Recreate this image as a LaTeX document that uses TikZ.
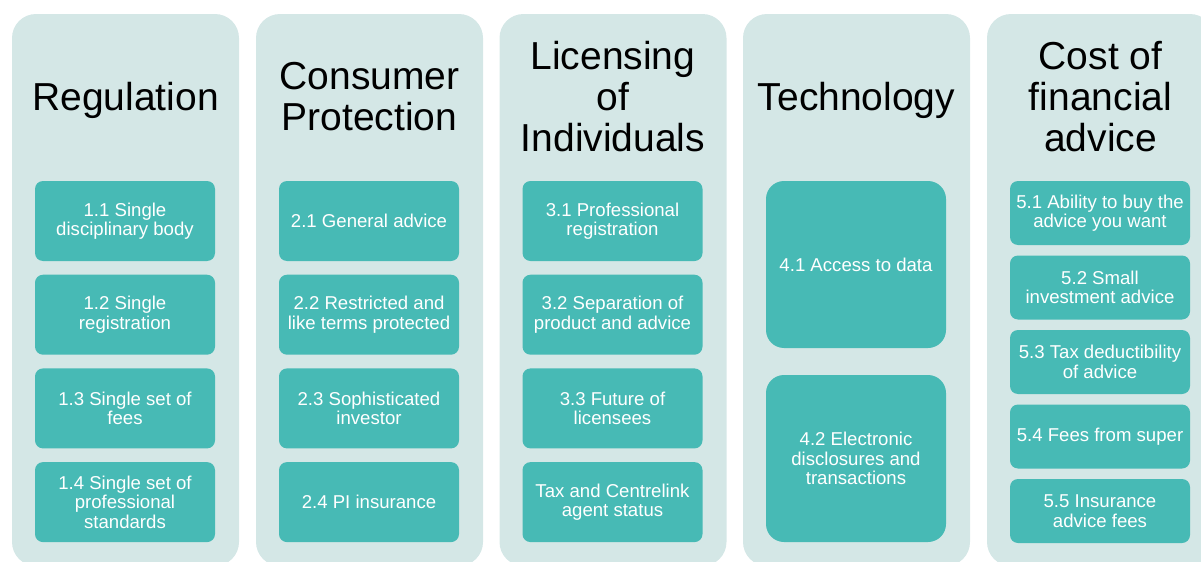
\documentclass[tikz,border=0pt]{standalone}
\usepackage{fontspec}
\setmainfont{Liberation Sans}
\usetikzlibrary{positioning}
\definecolor{panelbg}{RGB}{212,231,230}
\definecolor{itemfg}{RGB}{71,186,181}
\tikzset{
    x=0.5pt,y=-0.5pt,
    panel/.style ={fill=panelbg, rounded corners=12pt, inner sep=0pt,
                   minimum width=113.5pt, minimum height=276pt},
    heading/.style ={align=center, font=\fontsize{19.5}{20.5}\selectfont},
    item/.style ={fill=itemfg, text=white, rounded corners=4pt, inner sep=0pt,
                  outer sep=0pt, align=center, minimum width=90pt, minimum height=40pt,
                  font=\fontsize{9.3}{9.8}\selectfont},
    smallitem/.style ={item, minimum height=32pt},
    bigitem/.style ={item, rounded corners=9pt, minimum height=83.5pt}
}

\begin{document}
\begin{tikzpicture}[node distance=6.85pt]

\useasboundingbox (0,0) rectangle (1201,562);

% Panels
\node[panel] (P1) at (125.5,290) {};
\node[panel] (P2) at (369.5,290) {};
\node[panel] (P3) at (613,290) {};
\node[panel] (P4) at (856.5,290) {};
\node[panel] (P5) at (1100.5,290) {};

% Headings
\node[heading] (H1) at (125.5,100) {Regulation};
\node[heading] (H2) at (369.5,97) {Consumer\\Protection};
\node[heading] (H3) at (613,97) {Licensing\\of\\Individuals};
\node[heading] (H4) at (856.5,100) {Technology};
\node[heading] (H5) at (1100.5,97) {Cost of\\financial\\advice};

% Regulation
\node[item, anchor=north] (R1) at (125,181) {1.1 Single\\disciplinary body};
\node[item, below=of R1] (R2) {1.2 Single\\registration};
\node[item, below=of R2] (R3) {1.3 Single set of\\fees};
\node[item, below=of R3] (R4) {1.4 Single set of\\professional\\standards};

% Consumer Protection
\node[item, anchor=north] (C1) at (369,181) {2.1 General advice};
\node[item, below=of C1] (C2) {2.2 Restricted and\\like terms protected};
\node[item, below=of C2] (C3) {2.3 Sophisticated\\investor};
\node[item, below=of C3] (C4) {2.4 PI insurance};

% Licensing of Individuals
\node[item, anchor=north] (L1) at (612.5,181) {3.1 Professional\\registration};
\node[item, below=of L1] (L2) {3.2 Separation of\\product and advice};
\node[item, below=of L2] (L3) {3.3 Future of\\licensees};
\node[item, below=of L3] (L4) {Tax and Centrelink\\agent status};

% Technology
\node[bigitem, anchor=north] (T1) at (856,181) {4.1 Access to data};
\node[bigitem, below=13.5pt of T1] (T2) {4.2 Electronic\\disclosures and\\transactions};

% Cost of financial advice
\node[smallitem, anchor=north] (F1) at (1100,181) {5.1 Ability to buy the\\advice you want};
\node[smallitem, below=5.25pt of F1] (F2) {5.2 Small\\investment advice};
\node[smallitem, below=5.25pt of F2] (F3) {5.3 Tax deductibility\\of advice};
\node[smallitem, below=5.25pt of F3] (F4) {5.4 Fees from super};
\node[smallitem, below=5.25pt of F4] (F5) {5.5 Insurance\\advice fees};

\end{tikzpicture}
\end{document}
